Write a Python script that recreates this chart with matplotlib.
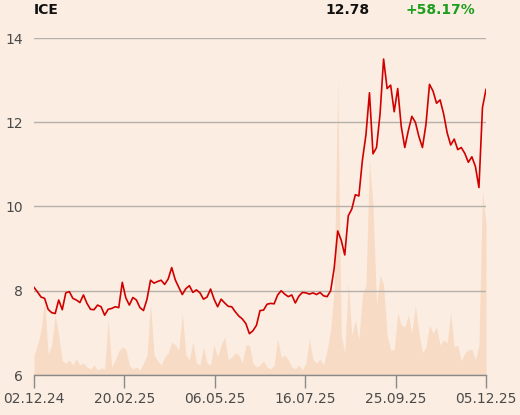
import matplotlib
matplotlib.use("Agg")
import matplotlib.pyplot as plt
import numpy as np

# ---- data ----
ticker = "ICE"
last_price = "12.78"
change_pct = "+58.17%"

tick_labels = ["02.12.24", "20.02.25", "06.05.25", "16.07.25", "25.09.25", "05.12.25"]
y_ticks = [6, 8, 10, 12, 14]

price = [
    8.08, 7.97, 7.85, 7.82, 7.56, 7.48, 7.46, 7.78, 7.55, 7.95,
    7.98, 7.82, 7.78, 7.72, 7.90, 7.70, 7.56, 7.55, 7.66, 7.62,
    7.42, 7.56, 7.58, 7.62, 7.60, 8.20, 7.83, 7.66, 7.84, 7.78,
    7.60, 7.53, 7.80, 8.25, 8.18, 8.22, 8.25, 8.15, 8.28, 8.55,
    8.26, 8.08, 7.91, 8.05, 8.12, 7.96, 8.02, 7.95, 7.80, 7.85,
    8.04, 7.80, 7.62, 7.80, 7.71, 7.63, 7.62, 7.50, 7.40, 7.33,
    7.22, 6.98, 7.05, 7.18, 7.53, 7.54, 7.68, 7.70, 7.69, 7.90,
    8.00, 7.92, 7.86, 7.90, 7.71, 7.87, 7.96, 7.95, 7.92, 7.95,
    7.91, 7.96, 7.88, 7.86, 8.00, 8.53, 9.42, 9.20, 8.85, 9.78,
    9.94, 10.28, 10.25, 11.10, 11.70, 12.70, 11.25, 11.40, 12.20, 13.50,
    12.80, 12.88, 12.25, 12.80, 11.90, 11.40, 11.80, 12.14, 12.00, 11.66,
    11.40, 11.95, 12.90, 12.74, 12.45, 12.53, 12.20, 11.75, 11.46, 11.60,
    11.35, 11.40, 11.26, 11.05, 11.18, 10.95, 10.45, 12.35, 12.78,
]

volume = [
    20, 30, 45, 75, 20, 30, 60, 40, 14, 12,
    15, 10, 16, 10, 12, 8, 6, 10, 5, 7,
    6, 55, 8, 15, 24, 28, 26, 10, 6, 8,
    5, 12, 20, 72, 20, 14, 10, 18, 22, 33,
    30, 25, 62, 20, 15, 33, 12, 10, 28, 12,
    10, 30, 18, 30, 38, 15, 18, 22, 20, 12,
    30, 30, 12, 8, 10, 14, 8, 6, 10, 36,
    18, 20, 15, 8, 6, 10, 5, 12, 36, 15,
    12, 16, 10, 25, 45, 85, 295, 40, 22, 92,
    40, 55, 35, 80, 90, 215, 170, 70, 100, 90,
    40, 25, 25, 62, 50, 48, 60, 42, 70, 42,
    22, 28, 50, 42, 48, 30, 35, 32, 62, 28,
    30, 14, 22, 25, 26, 15, 30, 185, 150,
]

# ---- style ----
bg = "#fbede1"
line_col = "#d10000"
vol_col = "#f8dbc5"
grid_col = "#b5b0ab"
text_col = "#4a4a4a"

W, H = 520, 415
fig = plt.figure(figsize=(W / 100, H / 100), dpi=100, facecolor=bg)
left, right, bottom, top = 34 / W, 486 / W, (H - 375) / H, (H - 38) / H
ax = fig.add_axes([left, bottom, right - left, top - bottom])
ax.set_facecolor(bg)

x = np.arange(len(price))
n = len(price) - 1

# volume on twin axis, drawn beneath
axv = ax.twinx()
axv.set_zorder(0)
ax.set_zorder(1)
ax.patch.set_visible(False)
axv.set_facecolor(bg)
axv.fill_between(x, 0, volume, color=vol_col, linewidth=0)
axv.set_ylim(0, 337)
axv.set_yticks([])
for s in axv.spines.values():
    s.set_visible(False)

for yt in y_ticks:
    ax.axhline(yt, color=grid_col, linewidth=1.0, zorder=1)

ax.plot(x, price, color=line_col, linewidth=1.2, zorder=3)

ax.set_xlim(0, n)
ax.set_ylim(6, 14)
ax.set_yticks(y_ticks)
ax.set_yticklabels([str(v) for v in y_ticks])
ax.set_xticks(np.linspace(0, n, len(tick_labels)))
ax.set_xticklabels(tick_labels)

for s in ["top", "right", "left"]:
    ax.spines[s].set_visible(False)
ax.spines["bottom"].set_color("#8a8a8a")
ax.spines["bottom"].set_linewidth(1.0)
ax.spines["bottom"].set_zorder(4)

ax.tick_params(axis="x", length=9.5, width=1.0, color="#8a8a8a",
               labelsize=10, labelcolor=text_col, pad=3)
ax.tick_params(axis="y", length=0, labelsize=10, labelcolor=text_col, pad=8)

fig.text(34 / W, 1 - 10 / H, ticker, fontsize=10, fontweight="bold",
         color="#111111", ha="left", va="center")
fig.text(370 / W, 1 - 10 / H, last_price, fontsize=10, fontweight="bold",
         color="#111111", ha="right", va="center")
fig.text(475 / W, 1 - 10 / H, change_pct, fontsize=10, fontweight="bold",
         color="#1e9e1e", ha="right", va="center")

fig.savefig("out.png", dpi=100, facecolor=bg)
